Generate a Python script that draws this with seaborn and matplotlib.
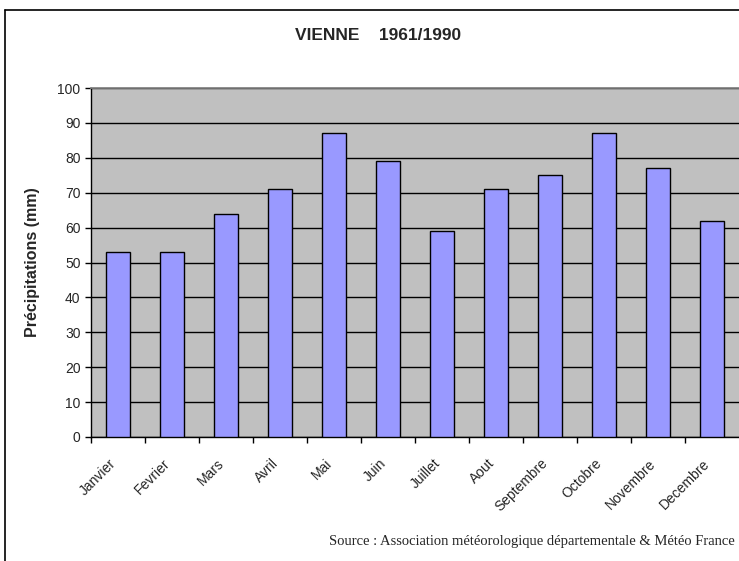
import numpy as np
import pandas as pd
import matplotlib
matplotlib.use("Agg")
import matplotlib.pyplot as plt
import matplotlib.transforms as mtrans
import seaborn as sns

months = ["Janvier", "Fevrier", "Mars", "Avril", "Mai", "Juin", "Juillet",
          "Aout", "Septembre", "Octobre", "Novembre", "Decembre"]
precip = [53, 53, 64, 71, 87, 79, 59, 71, 75, 87, 77, 62]
y_ticks = [0, 10, 20, 30, 40, 50, 60, 70, 80, 90, 100]

df = pd.DataFrame({"mois": months, "precip": precip})

sns.set_theme(style="white")
plt.rcParams['font.family'] = ['Liberation Sans', 'DejaVu Sans']

fig = plt.figure(figsize=(7.39, 5.61), dpi=100)
ax = fig.add_axes([91 / 739, 1 - 437 / 561, 1 - 91 / 739, (437 - 88) / 561])
ax.set_facecolor("#C0C0C0")

sns.barplot(data=df, x="mois", y="precip", color="#9999FF", saturation=1,
            width=0.45, edgecolor="black", linewidth=1, ax=ax, zorder=3)

ax.set_ylim(0, 100)
ax.set_xlim(-0.5, len(months) - 0.5)
ax.set_yticks(y_ticks)
ax.yaxis.grid(True, color="black", linewidth=1)
ax.set_axisbelow(True)

# labels at centres, tick marks between categories
ax.set_xticks(np.arange(len(months)))
ax.set_xticklabels(months, rotation=45, ha="right", rotation_mode="anchor", fontsize=10)
ax.set_xticks(np.arange(len(months)) - 0.5, minor=True)
ax.tick_params(axis="x", which="major", length=0, pad=14)
ax.tick_params(axis="x", which="minor", length=4, width=1, color="black", direction="out", bottom=True)
ax.tick_params(axis="y", length=4, width=1, color="black", direction="out", left=True, labelsize=10)

shift = mtrans.ScaledTranslation(-9 / 100, 0, fig.dpi_scale_trans)
for lab in ax.get_xticklabels():
    lab.set_transform(lab.get_transform() + shift)

for s in ["left", "bottom"]:
    ax.spines[s].set_color("black")
    ax.spines[s].set_linewidth(1)
ax.spines["top"].set_color("#808080")
ax.spines["right"].set_visible(False)

ax.set_xlabel("")
ax.set_ylabel("Précipitations (mm)", fontsize=11.5, fontweight="bold")
ax.yaxis.set_label_coords(-(91 - 40) / 649, 0.5)

fig.text(378 / 739, 1 - 36 / 561, "VIENNE    1961/1990", ha="center", va="center",
         fontsize=12.5, fontweight="bold")
fig.text(735 / 739, 1 - 542 / 561,
         "Source : Association météorologique départementale & Météo France",
         ha="right", va="center", fontsize=10.5, family=["Liberation Serif", "DejaVu Serif"])

# outer chart frame (left and top visible)
fig.add_artist(plt.Line2D([5 / 739, 5 / 739], [0, 1 - 10 / 561], transform=fig.transFigure, color="black", linewidth=1.2))
fig.add_artist(plt.Line2D([5 / 739, 1], [1 - 10 / 561, 1 - 10 / 561], transform=fig.transFigure, color="black", linewidth=1.2))

fig.savefig("out.png", dpi=100)
